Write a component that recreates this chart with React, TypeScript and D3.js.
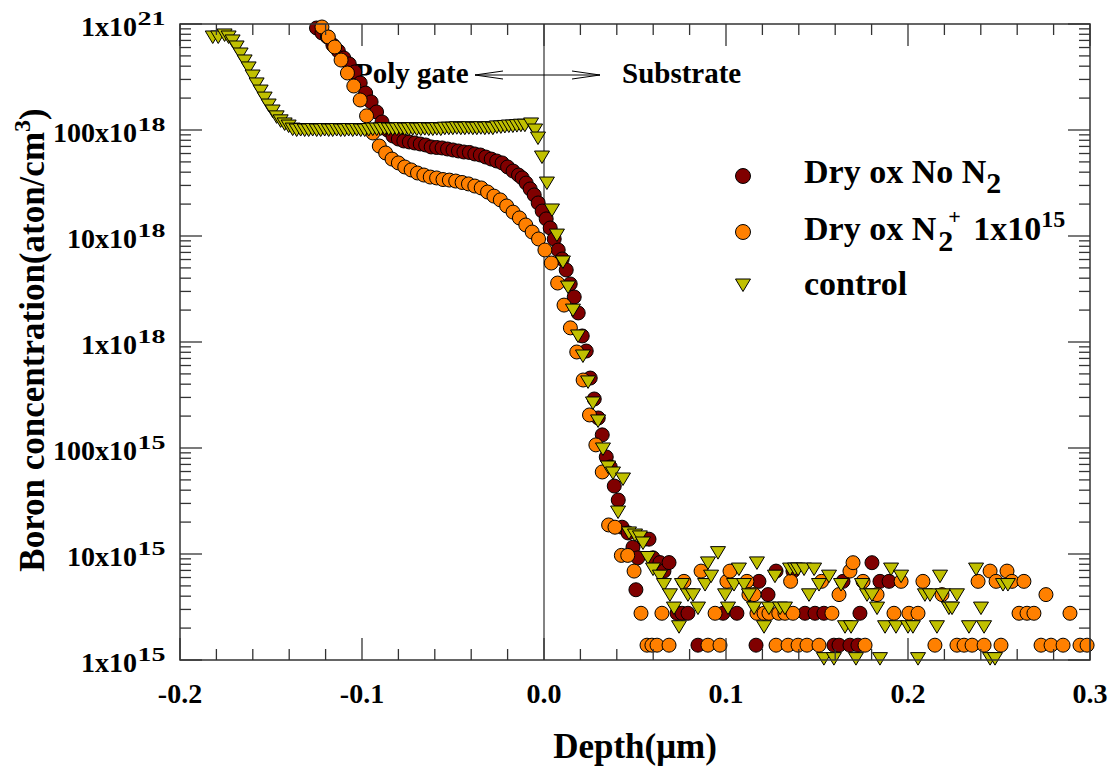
import React from "react";
import * as d3 from "d3";

const W = 1115;
const H = 778;
const FONT = "'Liberation Serif','Times New Roman',Times,serif";

// ---------- axis ticks ----------
const xTickValues = [-0.2, -0.1, 0.0, 0.1, 0.2, 0.3];
const xTickLabels = ["-0.2", "-0.1", "0.0", "0.1", "0.2", "0.3"];
const yTickValues = [1e15, 1e16, 1e17, 1e18, 1e19, 1e20, 1e21];
const yTickMantissa = ["1", "10", "100", "1", "10", "100", "1"];
const yTickExponent = ["15", "15", "15", "18", "18", "18", "21"];

// ---------- series: Dry ox No N2 ----------
const noN2Depth = [
  -0.125, -0.122, -0.119, -0.116, -0.113, -0.11, -0.107, -0.104, -0.101, -0.098,
  -0.095, -0.092, -0.089, -0.086, -0.083, -0.08, -0.077, -0.074, -0.071, -0.068,
  -0.065, -0.062, -0.059, -0.056, -0.053, -0.05, -0.047, -0.044, -0.041, -0.038,
  -0.035, -0.032, -0.029, -0.026, -0.023, -0.02, -0.017, -0.014,
  -0.012, -0.0098, -0.0076, -0.0054, -0.0032, -0.001, 0.0012, 0.0034, 0.0056, 0.0078,
  0.01, 0.0122, 0.0144, 0.0166, 0.0188, 0.021, 0.0232, 0.0254, 0.0276, 0.0298,
  0.032, 0.0342, 0.0364, 0.0386, 0.0408,
  0.0429, 0.0462, 0.0489, 0.0505, 0.0516, 0.0549, 0.0577, 0.0599, 0.0637, 0.0659,
  0.0687, 0.0731, 0.0758, 0.0791, 0.0846, 0.0984, 0.106, 0.1165, 0.1181, 0.1231,
  0.1275, 0.1368, 0.1434, 0.1489, 0.1538, 0.1593, 0.1621, 0.1643, 0.1681, 0.1725,
  0.1736, 0.1802, 0.1846, 0.1896,
];
const noN2Conc = [
  9.17e20, 8.23e20, 7.54e20, 6.34e20, 5.56e20, 4.78e20, 4.2e20, 3.53e20, 2.78e20, 2.23e20,
  1.84e20, 1.48e20, 1.19e20, 1.0e20, 8.78e19, 8.22e19, 7.88e19, 7.71e19, 7.54e19, 7.38e19,
  7.22e19, 6.92e19, 6.84e19, 6.77e19, 6.62e19, 6.48e19, 6.34e19, 6.2e19, 6.14e19, 5.94e19,
  5.81e19, 5.56e19, 5.32e19, 5.1e19, 4.89e19, 4.48e19, 4.1e19, 3.76e19,
  3.53e19, 3.16e19, 2.78e19, 2.44e19, 2.05e19, 1.72e19, 1.45e19, 1.19e19, 9.37e18, 7.38e18,
  6.07e18, 4.78e18, 3.53e18, 2.66e18, 1.88e18, 1.14e18, 8.22e17, 4.57e17, 2.9e17, 1.92e17,
  1.33e17, 8.23e16, 6.62e16, 4.38e16, 3.23e16,
  1.79e16, 1.58e16, 1.16e16, 4.6e15, 9.2e15, 1.38e16, 1.38e16, 9.2e15, 8.3e15, 6.9e15,
  8.3e15, 2.76e15, 2.76e15, 2.76e15, 1.38e15, 2.76e15, 2.76e15, 1.38e15, 5.52e15, 4.14e15,
  6.9e15, 6.9e15, 2.76e15, 2.76e15, 2.76e15, 1.38e15, 1.38e15, 5.52e15, 1.38e15, 1.38e15,
  2.76e15, 8.28e15, 5.52e15, 5.52e15,
];

// ---------- series: Dry ox N2+ 1x10^15 ----------
const n2Depth = [
  -0.122, -0.1185, -0.115, -0.1115, -0.108, -0.1045, -0.101, -0.0975, -0.094, -0.0905,
  -0.087, -0.0835, -0.08, -0.0765, -0.073, -0.0695, -0.066, -0.0625, -0.059, -0.0555,
  -0.052, -0.0485, -0.045, -0.0415, -0.038, -0.0345, -0.031, -0.0275, -0.024, -0.0205,
  -0.017, -0.0135, -0.01, -0.0065, -0.003, 0.0005, 0.004, 0.0075, 0.011, 0.0145,
  0.018, 0.0215, 0.025, 0.0285, 0.032, 0.0355,
  0.039, 0.0425, 0.046, 0.0495, 0.0533, 0.0566, 0.0593, 0.0621, 0.0648, 0.0687,
  0.0769, 0.0863, 0.0901, 0.094, 0.0967, 0.1005, 0.1022, 0.1115, 0.1126, 0.1154,
  0.117, 0.1209, 0.1236, 0.1275, 0.129, 0.1324, 0.1341, 0.1355, 0.1368, 0.1396,
  0.1445, 0.1511, 0.1525, 0.1582, 0.1621, 0.1681, 0.1698, 0.1753, 0.1764, 0.183,
  0.1923, 0.1962, 0.2005, 0.2055, 0.2082, 0.2148, 0.2187, 0.2269, 0.2308, 0.2352,
  0.2385, 0.2418, 0.2451, 0.2484, 0.2511, 0.2544, 0.2571, 0.261, 0.2637, 0.2654,
  0.2692, 0.2731, 0.2758, 0.2786, 0.2852, 0.289, 0.2945, 0.2984,
];
const n2Conc = [
  9.37e20, 7.54e20, 6.07e20, 4.57e20, 3.45e20, 2.6e20, 1.92e20, 1.36e20, 9.37e19, 7.06e19,
  6.07e19, 5.32e19, 4.89e19, 4.48e19, 4.2e19, 3.93e19, 3.76e19, 3.6e19, 3.53e19, 3.41e19,
  3.37e19, 3.3e19, 3.2e19, 3.1e19, 2.96e19, 2.84e19, 2.6e19, 2.38e19, 2.19e19, 1.92e19,
  1.68e19, 1.48e19, 1.27e19, 1.09e19, 9.37e18, 7.38e18, 5.56e18, 3.6e18, 2.23e18, 1.36e18,
  8.05e17, 4.38e17, 2.05e17, 1.07e17, 5.94e16, 1.88e16,
  1.79e16, 9.7e15, 9.7e15, 6.9e15, 2.76e15, 1.38e15, 1.38e15, 1.38e15, 2.76e15, 1.38e15,
  5.52e15, 6.9e15, 1.38e15, 2.76e15, 1.38e15, 5.52e15, 6.9e15, 5.52e15, 4.14e15, 4.14e15,
  2.76e15, 2.76e15, 2.76e15, 1.38e15, 2.76e15, 2.76e15, 1.38e15, 5.52e15, 2.76e15, 1.38e15,
  1.38e15, 1.38e15, 5.52e15, 2.76e15, 4.14e15, 6.9e15, 8.28e15, 5.52e15, 1.38e15, 4.14e15,
  2.76e15, 5.52e15, 2.76e15, 2.76e15, 5.52e15, 1.38e15, 4.14e15, 1.38e15, 1.38e15, 1.38e15,
  5.52e15, 1.38e15, 6.9e15, 5.52e15, 1.38e15, 6.9e15, 5.52e15, 2.76e15, 5.52e15, 2.76e15,
  2.76e15, 1.38e15, 4.14e15, 1.38e15, 1.38e15, 2.76e15, 1.38e15, 1.38e15,
];

// ---------- series: control ----------
const ctrlDepth = [
  -0.182, -0.179, -0.1755, -0.1733, -0.1711, -0.1689, -0.1667, -0.1645, -0.1623, -0.1601,
  -0.1579, -0.1557, -0.1535, -0.1513, -0.1491, -0.1469, -0.1447, -0.1425, -0.1403,
  -0.1381, -0.1359, -0.1337, -0.1315, -0.1293, -0.1271, -0.1249, -0.1227, -0.1205, -0.1183,
  -0.1161, -0.1139, -0.1117, -0.1095, -0.1073, -0.1051, -0.1029, -0.1007, -0.0985, -0.0963,
  -0.0941, -0.0919, -0.0897, -0.0875, -0.0853, -0.0831, -0.0809, -0.0787, -0.0765, -0.0743,
  -0.0721, -0.0699, -0.0677, -0.0655, -0.0633, -0.0611, -0.0589, -0.0567, -0.0545, -0.0523,
  -0.0501, -0.0479, -0.0457, -0.0435, -0.0413, -0.0391, -0.0369, -0.0347, -0.0325, -0.0303,
  -0.0281, -0.0259, -0.0237, -0.0215, -0.0193, -0.0171, -0.0149, -0.0127, -0.0105,
  -0.0071, -0.0049, -0.0033, -0.0011, 0.0016, 0.0044, 0.0071, 0.0104, 0.0132, 0.0159,
  0.0187, 0.0214, 0.0242, 0.0269, 0.0297, 0.0324, 0.0352, 0.0379, 0.0407, 0.0434,
  0.0467, 0.05, 0.0527, 0.0544, 0.0571, 0.0599, 0.0637, 0.0659, 0.0692, 0.0714,
  0.0742, 0.0758, 0.0791, 0.0819, 0.0846, 0.0885, 0.0901, 0.0918, 0.0956, 0.0995,
  0.1011, 0.1044, 0.1071, 0.1099, 0.1126, 0.1154, 0.117, 0.1209, 0.1236, 0.1269,
  0.1297, 0.1324, 0.1352, 0.1379, 0.1396, 0.1429, 0.1456, 0.1484, 0.1511, 0.1538,
  0.1566, 0.1593, 0.1632, 0.1654, 0.1687, 0.1714, 0.1747, 0.1775, 0.1802, 0.183,
  0.1846, 0.1874, 0.1907, 0.1934, 0.1962, 0.2, 0.2027, 0.2055, 0.2093, 0.2121,
  0.2159, 0.2176, 0.2192, 0.2225, 0.2242, 0.2269, 0.2335, 0.2374, 0.2401, 0.2418,
  0.2451, 0.2478, 0.2522, 0.2549,
];
const ctrlConc = [
  7.54e20, 7.54e20, 7.88e20, 7.54e20, 6.92e20, 6.07e20, 5.21e20, 4.48e20, 3.85e20, 3.23e20,
  2.72e20, 2.33e20, 2.0e20, 1.72e20, 1.51e20, 1.33e20, 1.22e20, 1.14e20, 1.09e20,
  1.02e20, 1.0e20, 1.01e20, 1.0e20, 1.0e20, 1.01e20, 1.0e20, 1.0e20, 1.01e20, 1.0e20,
  1.0e20, 1.01e20, 1.0e20, 1.0e20, 1.01e20, 1.0e20, 1.01e20, 1.0e20, 1.0e20, 1.01e20,
  1.02e20, 1.02e20, 1.02e20, 1.03e20, 1.02e20, 1.02e20, 1.02e20, 1.03e20, 1.02e20, 1.02e20,
  1.03e20, 1.02e20, 1.02e20, 1.03e20, 1.02e20, 1.02e20, 1.03e20, 1.02e20, 1.04e20, 1.04e20,
  1.04e20, 1.05e20, 1.04e20, 1.04e20, 1.05e20, 1.04e20, 1.04e20, 1.05e20, 1.04e20, 1.05e20,
  1.04e20, 1.07e20, 1.07e20, 1.08e20, 1.09e20, 1.09e20, 1.1e20, 1.11e20, 1.11e20,
  1.14e20, 1.0e20, 8.4e19, 5.56e19, 3.16e19, 1.76e19, 1.02e19, 5.69e18, 3.3e18, 2.0e18,
  1.14e18, 7.38e17, 4.2e17, 2.66e17, 1.8e17, 9.79e16, 6.62e16, 5.81e16, 2.49e16, 5.1e16,
  1.58e16, 1.51e16, 1.45e16, 1.27e16, 9.27e15, 7.21e15, 6.18e15, 5.15e15, 4.12e15, 3.09e15,
  2.06e15, 5.15e15, 4.12e15, 4.12e15, 3.09e15, 5.15e15, 8.24e15, 6.18e15, 1.03e16, 4.12e15,
  3.09e15, 5.15e15, 7.21e15, 5.15e15, 4.12e15, 3.09e15, 8.24e15, 2.06e15, 3.09e15, 6.18e15,
  3.09e15, 3.09e15, 7.21e15, 7.21e15, 7.21e15, 7.21e15, 4.12e15, 7.21e15, 5.15e15, 1.03e15,
  6.18e15, 1.03e15, 5.15e15, 2.06e15, 2.06e15, 1.03e15, 5.15e15, 4.12e15, 4.12e15, 3.09e15,
  1.03e15, 2.06e15, 7.21e15, 2.06e15, 6.18e15, 2.06e15, 2.06e15, 1.03e15, 4.12e15, 4.12e15,
  2.06e15, 6.18e15, 4.12e15, 3.09e15, 3.09e15, 4.12e15, 2.06e15, 7.21e15, 3.09e15, 2.06e15,
  1.03e15, 1.03e15, 5.15e15, 5.15e15,
];

const seriesNames = ["Dry ox No N2", "Dry ox N2+ 1x10^15", "control"];
const seriesColors = ["#800000", "#ff8000", "#c0c000"];

const TRI = "M-7.5,-6L7.5,-6L0,6.5Z";

function zip(a: number[], b: number[]) {
  return a.map((v, i) => [v, b[i]] as [number, number]);
}

export default function App() {
  const left = 180, right = 1090, top = 24, bottom = 660;
  const x = d3.scaleLinear().domain([-0.2, 0.3]).range([left, right]);
  const y = d3.scaleLog().domain([1e15, 1e21]).range([bottom, top]);

  const axisColor = "#333";

  const xMinor = d3.range(0, 26).map((i) => ({ v: -0.2 + i * 0.02, major: i % 5 === 0 }));
  const yMinor: { v: number; major: boolean }[] = [];
  for (let e = 15; e <= 20; e++) {
    for (let m = 1; m <= 9; m++) yMinor.push({ v: m * Math.pow(10, e), major: m === 1 });
  }
  yMinor.push({ v: 1e21, major: true });

  const noN2 = zip(noN2Depth, noN2Conc);
  const n2 = zip(n2Depth, n2Conc);
  const ctrl = zip(ctrlDepth, ctrlConc);

  const SUPW = 28;

  return (
    <div style={{ position: "absolute", left: 0, top: 0, width: W, height: H, background: "#fff" }}>
      <svg width={W} height={H} style={{ display: "block" }} fontFamily={FONT} fontWeight="bold">
        <title>{seriesNames.join(", ")}</title>
        <rect x={0} y={0} width={W} height={H} fill="#fff" />

        {/* zero line */}
        <line x1={x(0)} x2={x(0)} y1={top} y2={bottom} stroke="#5a5a5a" strokeWidth={1.5} />

        {/* annotation arrow */}
        <g stroke="#000" strokeWidth={1} fill="none">
          <line x1={475} x2={600} y1={75} y2={75} />
          <polyline points="503,71 475,75 503,79" />
          <polyline points="572,71 600,75 572,79" />
        </g>
        <text x={355} y={83} fontSize={29}>Poly gate</text>
        <text x={622} y={83} fontSize={29}>Substrate</text>

        {/* data */}
        <g>
          {noN2.map(([d, c], i) => (
            <circle key={"a" + i} cx={x(d)} cy={y(c)} r={7} fill={seriesColors[0]} stroke="#000" strokeWidth={1} />
          ))}
        </g>
        <g>
          {n2.map(([d, c], i) => (
            <circle key={"b" + i} cx={x(d)} cy={y(c)} r={7} fill={seriesColors[1]} stroke="#000" strokeWidth={1} />
          ))}
        </g>
        <g>
          {ctrl.map(([d, c], i) => (
            <path key={"c" + i} d={TRI} transform={`translate(${x(d)},${y(c)})`} fill={seriesColors[2]} stroke="#000" strokeWidth={1} />
          ))}
        </g>

        {/* frame */}
        <rect x={left} y={top} width={right - left} height={bottom - top} fill="none" stroke={axisColor} strokeWidth={1.5} />

        {/* ticks */}
        <g stroke={axisColor} strokeWidth={1.3}>
          {xMinor.map((t, i) => {
            const len = t.major ? 22 : 11;
            return (
              <g key={"xt" + i}>
                <line x1={x(t.v)} x2={x(t.v)} y1={bottom} y2={bottom - len} />
                <line x1={x(t.v)} x2={x(t.v)} y1={top} y2={top + len} />
              </g>
            );
          })}
          {yMinor.map((t, i) => {
            const len = t.major ? 22 : 11;
            return (
              <g key={"yt" + i}>
                <line x1={left} x2={left + len} y1={y(t.v)} y2={y(t.v)} />
                <line x1={right} x2={right - len} y1={y(t.v)} y2={y(t.v)} />
              </g>
            );
          })}
        </g>

        {/* x tick labels */}
        {xTickValues.map((v, i) => (
          <text key={"xl" + i} x={x(v)} y={703} fontSize={28} textAnchor="middle">
            {xTickLabels[i]}
          </text>
        ))}

        {/* y tick labels */}
        {yTickValues.map((v, i) => {
          const ty = y(v);
          const xr = 165;
          return (
            <g key={"yl" + i}>
              <text x={xr - SUPW} y={ty + 11.5} fontSize={28} textAnchor="end">
                {yTickMantissa[i] + "x10"}
              </text>
              <text transform={`translate(${xr - SUPW + 0.5},${ty + 0.5}) scale(1,0.64)`} fontSize={28}>
                {yTickExponent[i]}
              </text>
            </g>
          );
        })}

        {/* axis titles */}
        <text x={(left + right) / 2} y={758} fontSize={35} textAnchor="middle">Depth(μm)</text>
        <text transform="translate(44,340) rotate(-90)" fontSize={35} textAnchor="middle">
          Boron concentration(aton/cm<tspan fontSize={24} dy={-14}>3</tspan>
          <tspan dy={14}>)</tspan>
        </text>

        {/* legend */}
        <circle cx={743} cy={176} r={7.5} fill={seriesColors[0]} stroke="#000" strokeWidth={1} />
        <circle cx={743} cy={232} r={7.5} fill={seriesColors[1]} stroke="#000" strokeWidth={1} />
        <path d={TRI} transform="translate(743,285)" fill={seriesColors[2]} stroke="#000" strokeWidth={1} />
        <text x={804} y={183} fontSize={34}>
          Dry ox No N<tspan fontSize={30} dy={10}>2</tspan>
        </text>
        <text x={804} y={240} fontSize={34}>
          Dry ox N<tspan fontSize={30} dx={2} dy={11}>2</tspan>
          <tspan fontSize={22} dx={-5} dy={-27}>+</tspan>
          <tspan fontSize={34} dx={4} dy={16}>{" 1x10"}</tspan>
          <tspan fontSize={24} dy={-13}>15</tspan>
        </text>
        <text x={804} y={295} fontSize={34}>control</text>
      </svg>
    </div>
  );
}
